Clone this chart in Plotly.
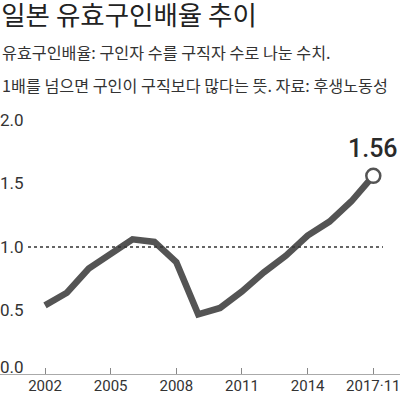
import plotly.graph_objects as go

# ---- data ----
years = [2002, 2003, 2004, 2005, 2006, 2007, 2008, 2009, 2010, 2011, 2012, 2013, 2014, 2015, 2016, 2017]
ratio = [0.54, 0.64, 0.83, 0.95, 1.06, 1.04, 0.88, 0.47, 0.52, 0.65, 0.80, 0.93, 1.09, 1.20, 1.36, 1.56]
x_tick_vals = [2002, 2005, 2008, 2011, 2014, 2017]
x_tick_text = ["2002", "2005", "2008", "2011", "2014", "2017·11"]
y_tick_vals = [0.5, 1.0, 1.5, 2.0]
y_tick_text = ["0.5", "1.0", "1.5", "2.0"]
title_text = "일본 유효구인배율 추이"
sub_line1 = "유효구인배율: 구인자 수를 구직자 수로 나눈 수치."
sub_line2 = "1배를 넘으면 구인이 구직보다 많다는 뜻. 자료: 후생노동성"
reference_level = 1.0

NUM = "Roboto, Liberation Sans, sans-serif"
KR = "Noto Sans CJK KR, sans-serif"
LINE_COLOR = "#545454"

fig = go.Figure()

fig.add_trace(go.Scatter(
    x=years, y=ratio, mode="lines",
    line=dict(color=LINE_COLOR, width=6.5),
    hoverinfo="skip", showlegend=False,
))

fig.add_trace(go.Scatter(
    x=[years[-1]], y=[ratio[-1]], mode="markers", yaxis="y2",
    marker=dict(size=14, color="white", line=dict(color=LINE_COLOR, width=2.5)),
    hoverinfo="skip", showlegend=False, cliponaxis=False,
))

# dotted reference line at 1.0
fig.add_shape(type="line", xref="paper", yref="y",
              x0=0.07, x1=0.9575, y0=reference_level, y1=reference_level,
              line=dict(color="#333333", width=1.5, dash="dot"))

fig.update_layout(
    width=400, height=396,
    margin=dict(l=0, r=0, t=107, b=22, autoexpand=False),
    paper_bgcolor="white", plot_bgcolor="white",
    title=dict(text=title_text, x=0.003, xanchor="left", xref="container",
               y=1 - 15.5 / 396, yanchor="middle", yref="container",
               font=dict(family=KR, size=26.5, color="#222222")),
    xaxis=dict(range=[1999.944, 2018.22], tickvals=x_tick_vals, ticktext=x_tick_text,
               ticks="inside", ticklen=6, tickcolor="#888888", tickwidth=1,
               showline=True, linecolor="#aaaaaa", linewidth=1,
               showgrid=False, zeroline=False, ticklabeloverflow="allow",
               automargin=False, ticklabelstandoff=-2,
               tickfont=dict(family=NUM, size=15, color="#333333")),
    yaxis=dict(range=[0, 2.102], tickvals=y_tick_vals, ticktext=y_tick_text,
               ticklabelposition="inside", ticks="", showgrid=False, zeroline=False,
               showline=False, ticklabelstandoff=-3, automargin=False,
               ticklabeloverflow="allow",
               tickfont=dict(family=NUM, size=17, color="#333333")),
    yaxis2=dict(range=[0, 2.102], overlaying="y", side="left",
                tickvals=[0], ticktext=["0.0"], ticklabelposition="inside",
                ticklabelshift=-7, ticklabelstandoff=-3, automargin=False,
                ticklabeloverflow="allow",
                ticks="", showgrid=False, zeroline=False, showline=False,
                tickfont=dict(family=NUM, size=17, color="#333333")),
    annotations=[
        dict(text=sub_line1, xref="paper", yref="paper", x=0.0, y=(374 - 52) / 267,
             xanchor="left", yanchor="middle", showarrow=False,
             font=dict(family=KR, size=16.2, color="#333333")),
        dict(text=sub_line2, xref="paper", yref="paper", x=0.0, y=(374 - 85) / 267,
             xanchor="left", yanchor="middle", showarrow=False,
             font=dict(family=KR, size=16.2, color="#333333")),
        dict(text=f"{ratio[-1]:.2f}", xref="x", yref="y2", x=years[-1], y=ratio[-1],
             yshift=27, xanchor="center", yanchor="middle", showarrow=False,
             font=dict(family=NUM, size=25, color="#2a2a2a", weight=500)),
    ],
)

fig.write_html("out.html", config={"displayModeBar": False},
               post_script="document.body.style.margin='0';")
